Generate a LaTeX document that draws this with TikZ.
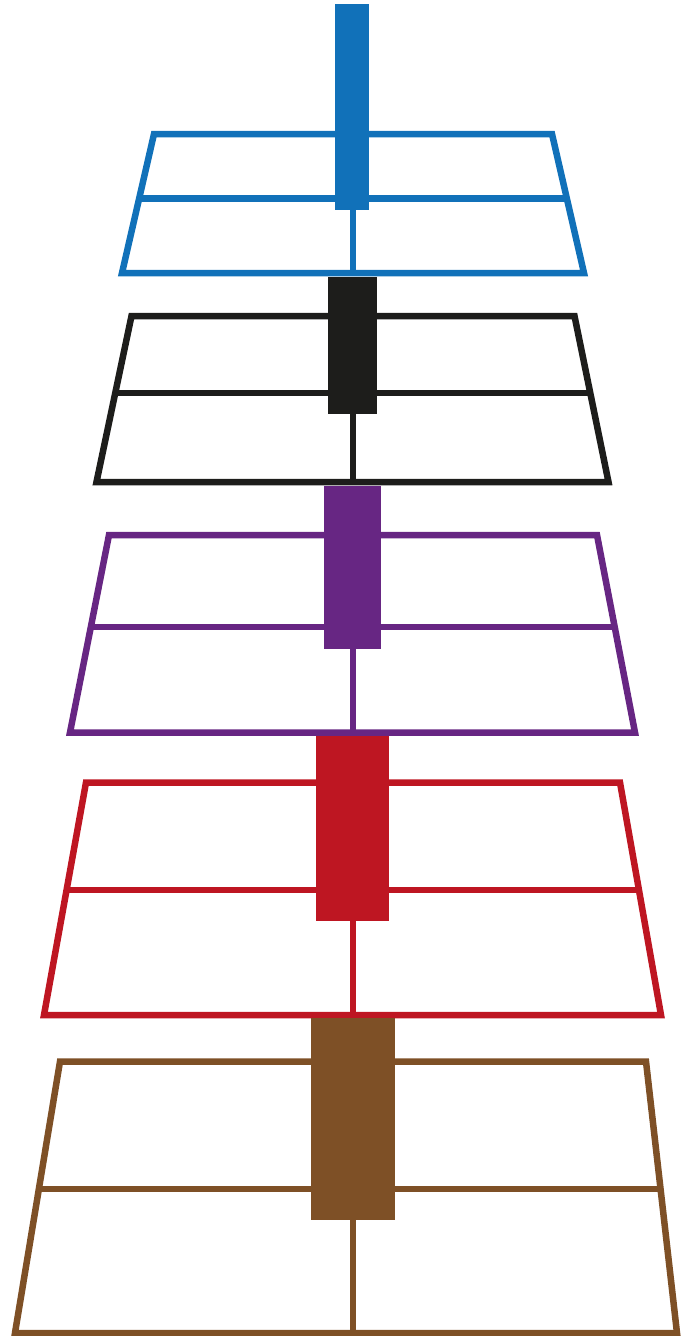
\documentclass[tikz,border=0pt]{standalone}
\usepackage{tikz}
\usepackage{xcolor}
\definecolor{StandBlue}{RGB}{17,113,185}
\definecolor{StandBlack}{RGB}{29,29,27}
\definecolor{StandPurple}{RGB}{103,38,131}
\definecolor{StandRed}{RGB}{190,22,34}
\definecolor{StandBrown}{RGB}{126,80,38}

\begin{document}
\begin{tikzpicture}[x=0.02cm, y=-0.02cm, frame/.style={line width=0.13cm, line join=miter}]
    \useasboundingbox (0,0) rectangle (688,1336);
    % blue
    \draw[frame,StandBlue] (154,134) -- (552,134) -- (584,273) -- (122,273) -- cycle;
    \draw[frame,StandBlue] (139.2,198.5) -- (566.8,198.5);
    \draw[frame,StandBlue] (353,198.5) -- (353,273);
    \fill[StandBlue] (335,4) rectangle (369,210);
    % black
    \draw[frame,StandBlack] (131.5,316) -- (574.5,316) -- (608.5,482) -- (96.5,482) -- cycle;
    \draw[frame,StandBlack] (115.3,393) -- (590.3,393);
    \draw[frame,StandBlack] (353,393) -- (353,482);
    \fill[StandBlack] (328,277) rectangle (377,414);
    % purple
    \draw[frame,StandPurple] (109,535) -- (597,535) -- (635,732.5) -- (70,732.5) -- cycle;
    \draw[frame,StandPurple] (90.8,627) -- (614.7,627);
    \draw[frame,StandPurple] (353,627) -- (353,732.5);
    \fill[StandPurple] (324,486) rectangle (381,649);
    % red
    \draw[frame,StandRed] (86,782.5) -- (620,782.5) -- (661,1015) -- (44,1015) -- cycle;
    \draw[frame,StandRed] (66.6,890) -- (638.9,890);
    \draw[frame,StandRed] (353,890) -- (353,1015);
    \fill[StandRed] (316,736) rectangle (389,921);
    % brown
    \draw[frame,StandBrown] (60,1061.5) -- (646,1061.5) -- (677,1333) -- (15,1333) -- cycle;
    \draw[frame,StandBrown] (38.9,1189) -- (660.6,1189);
    \draw[frame,StandBrown] (353,1189) -- (353,1333);
    \fill[StandBrown] (311,1018) rectangle (395,1220);
\end{tikzpicture}
\end{document}
